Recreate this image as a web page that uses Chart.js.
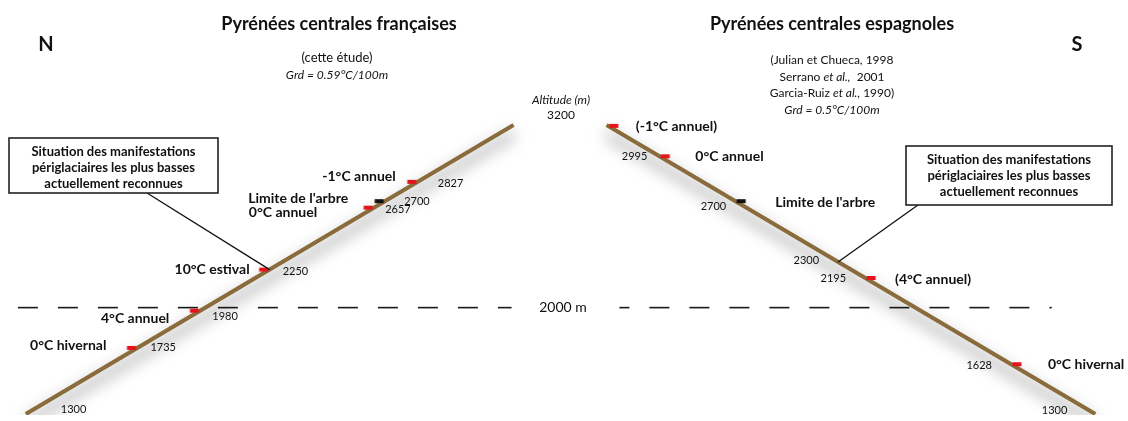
<!DOCTYPE html>
<html>
<head>
<meta charset="utf-8">
<script src="https://cdn.jsdelivr.net/npm/chart.js@4.4.0/dist/chart.umd.min.js"></script>
<style>
  html, body { margin: 0; padding: 0; background: #fff; overflow: hidden; }
  canvas { display: block; }
</style>
</head>
<body>
<canvas id="profil" width="1128" height="421"></canvas>
<script>
// altitudes in metres
const slopeAlt = [1300, 3200]
const refAlt = 2000
const periglacialAlt = [2250, 2300] // north, south
const treeLine = 2700

const northAlt = [1735, 1980, 2250, 2657, 2700, 2827]
const northText = ['0°C hivernal', '4°C annuel', '10°C estival', '0°C annuel', "Limite de l'arbre", '-1°C annuel']
const northTicks = [1300, 1735, 1980, 2250, 2657, 2700, 2827]

const southAlt = [3195, 2995, 2700, 2195, 1628]
const southText = ['(-1°C annuel)', '0°C annuel', "Limite de l'arbre", '(4°C annuel)', '0°C hivernal']
const southTicks = [2995, 2700, 2300, 2195, 1628, 1300]

// horizontal position of each slope (foot, top) on the profile axis
const profile = { north: [20, 513], south: [1101, 607] }
const xAt = (side, alt) => {
  const [x0, x1] = profile[side]
  return x0 + (alt - slopeAlt[0]) / (slopeAlt[1] - slopeAlt[0]) * (x1 - x0)
}

const BROWN = '#8a6b3b'
const RED = '#e3141c'
const FONT = 'Lato, "Open Sans", sans-serif'

// small dash used as marker, drawn beside the slope
const dash = (color, shift) => {
  const c = document.createElement('canvas')
  c.width = 30
  c.height = 6
  const g = c.getContext('2d')
  g.fillStyle = color
  g.fillRect(15 + shift - 4.5, 1, 9, 4)
  return c
}
const dashN = { red: dash(RED, -6), black: dash('#111', -6) }
const dashS = { red: dash(RED, 6), black: dash('#111', 6) }

const shadowPlugin = {
  id: 'shadow',
  beforeDatasetDraw(chart, args) {
    if (!chart.data.datasets[args.index].shadow) return
    const ctx = chart.ctx
    ctx.save()
    ctx.shadowColor = 'rgba(0,0,0,0.6)'
    ctx.shadowBlur = 16
    ctx.shadowOffsetY = 9
  },
  afterDatasetDraw(chart, args) {
    if (chart.data.datasets[args.index].shadow) chart.ctx.restore()
  },
}

function centered(ctx, parts, cx, y) {
  let w = 0
  parts.forEach(([t, f]) => { ctx.font = f; w += ctx.measureText(t).width })
  let x = cx - w / 2
  ctx.textAlign = 'left'
  parts.forEach(([t, f]) => { ctx.font = f; ctx.fillText(t, x, y); x += ctx.measureText(t).width })
}

function box(ctx, b, lines) {
  ctx.fillStyle = '#fff'
  ctx.fillRect(b.x, b.y, b.w, b.h)
  ctx.strokeStyle = '#222'
  ctx.lineWidth = 1.6
  ctx.strokeRect(b.x, b.y, b.w, b.h)
  ctx.fillStyle = '#111'
  ctx.font = 'bold 13px ' + FONT
  ctx.textAlign = 'center'
  lines.forEach((t, i) => ctx.fillText(t, b.x + b.w / 2, b.y + 14 + i * 16))
}

const northLabelOff = [[-25, -2], [-25, 8], [-14, 0], [-51, 5], [-31, -3], [-16, -5]]
const northTickOff = [[35, -5], [13, 0], [12, 6], [13, 2], [11, 2], [19, 0], [20, 2]]
const southLabelOff = [[22, 1], [30, 0], [34, 1], [24, 2], [31, 0]]
const southTickOff = [[-12, 0], [-9, 5], [-19, -2], [-19, 0], [-19, 1], [-28, -4]]

const textPlugin = {
  id: 'texts',
  afterDraw(chart) {
    const { ctx, scales: { x, y } } = chart
    ctx.save()
    ctx.textBaseline = 'middle'
    ctx.fillStyle = '#111'

    ctx.font = 'bold 20px ' + FONT
    ctx.textAlign = 'center'
    ctx.fillText('N', 46, 45)
    ctx.fillText('S', 1077, 45)

    ctx.font = 'bold 18px ' + FONT
    ctx.fillText('Pyrénées centrales françaises', 339, 24)
    ctx.fillText('Pyrénées centrales espagnoles', 832, 24)

    const reg = '12px ' + FONT
    const ita = 'italic 12px ' + FONT
    centered(ctx, [['(cette étude)', '13px ' + FONT]], 337, 58)
    centered(ctx, [['Grd = 0.59°C/100m', ita]], 337, 75)
    centered(ctx, [['(Julian et Chueca, 1998', reg]], 832, 60)
    centered(ctx, [['Serrano ', reg], ['et al.,', ita], ['  2001', reg]], 832, 77)
    centered(ctx, [['Garcia-Ruiz ', reg], ['et al.,', ita], [' 1990)', reg]], 832, 93)
    centered(ctx, [['Grd = 0.5°C/100m', ita]], 832, 110)

    const topY = y.getPixelForValue(slopeAlt[1])
    centered(ctx, [['Altitude (m)', ita]], 561, topY - 25)
    centered(ctx, [[String(slopeAlt[1]), reg]], 561, topY - 10)
    centered(ctx, [[refAlt + ' m', '14px ' + FONT]], 563, y.getPixelForValue(refAlt))

    // leader lines from the boxes to the slopes
    const leftBox = { x: 9, y: 138, w: 209, h: 55 }
    const rightBox = { x: 906, y: 146, w: 206, h: 59 }
    ctx.strokeStyle = '#111'
    ctx.lineWidth = 1.3
    ctx.beginPath()
    ctx.moveTo(147, leftBox.y + leftBox.h)
    ctx.lineTo(x.getPixelForValue(xAt('north', periglacialAlt[0])), y.getPixelForValue(periglacialAlt[0]))
    ctx.moveTo(918, rightBox.y + rightBox.h)
    ctx.lineTo(x.getPixelForValue(xAt('south', periglacialAlt[1])), y.getPixelForValue(periglacialAlt[1]))
    ctx.stroke()
    const boxText = ['Situation des manifestations', 'périglaciaires les plus basses', 'actuellement reconnues']
    box(ctx, leftBox, boxText)
    box(ctx, rightBox, boxText)

    // marker labels
    ctx.fillStyle = '#111'
    ctx.font = 'bold 14px ' + FONT
    const mN = chart.getDatasetMeta(0).data
    ctx.textAlign = 'right'
    northText.forEach((t, i) => ctx.fillText(t, mN[i].x - 6 + northLabelOff[i][0], mN[i].y + northLabelOff[i][1]))
    const mS = chart.getDatasetMeta(1).data
    ctx.textAlign = 'left'
    southText.forEach((t, i) => ctx.fillText(t, mS[i].x + 6 + southLabelOff[i][0], mS[i].y + southLabelOff[i][1]))

    // altitude figures
    ctx.font = '11px ' + FONT
    ctx.textAlign = 'left'
    northTicks.forEach((a, i) => {
      ctx.fillText(String(a), x.getPixelForValue(xAt('north', a)) + northTickOff[i][0], y.getPixelForValue(a) + northTickOff[i][1])
    })
    ctx.textAlign = 'right'
    southTicks.forEach((a, i) => {
      ctx.fillText(String(a), x.getPixelForValue(xAt('south', a)) + southTickOff[i][0], y.getPixelForValue(a) + southTickOff[i][1])
    })
    ctx.restore()
  },
}

const slope = side => slopeAlt.map(a => ({ x: xAt(side, a), y: a }))
const marks = (side, alts) => alts.map(a => ({ x: xAt(side, a), y: a }))

const datasets = [
  {
    data: marks('north', northAlt),
    pointStyle: c => (northAlt[c.dataIndex] === treeLine ? dashN.black : dashN.red),
    pointRadius: 5,
    showLine: false,
  },
  {
    data: marks('south', southAlt),
    pointStyle: c => (southAlt[c.dataIndex] === treeLine ? dashS.black : dashS.red),
    pointRadius: 5,
    showLine: false,
  },
  { data: slope('north'), showLine: true, borderColor: BROWN, borderWidth: 4, pointRadius: 0, shadow: true },
  { data: slope('south'), showLine: true, borderColor: BROWN, borderWidth: 4, pointRadius: 0, shadow: true },
  {
    data: [{ x: 12, y: refAlt }, { x: 511, y: refAlt }],
    showLine: true, borderColor: '#1a1a1a', borderWidth: 1.6, borderDash: [20, 20], pointRadius: 0,
  },
  {
    data: [{ x: 620, y: refAlt }, { x: 1057, y: refAlt }],
    showLine: true, borderColor: '#1a1a1a', borderWidth: 1.6, borderDash: [20, 20], borderDashOffset: 10, pointRadius: 0,
  },
]

new Chart(document.getElementById('profil'), {
  type: 'scatter',
  data: { datasets },
  options: {
    responsive: false,
    animation: false,
    events: [],
    layout: { padding: 0 },
    scales: {
      x: { type: 'linear', min: 0, max: 1128, display: false },
      y: { type: 'linear', min: 1294, max: 3983, display: false },
    },
    plugins: { legend: { display: false }, tooltip: { enabled: false } },
  },
  plugins: [shadowPlugin, textPlugin],
})
</script>
</body>
</html>
